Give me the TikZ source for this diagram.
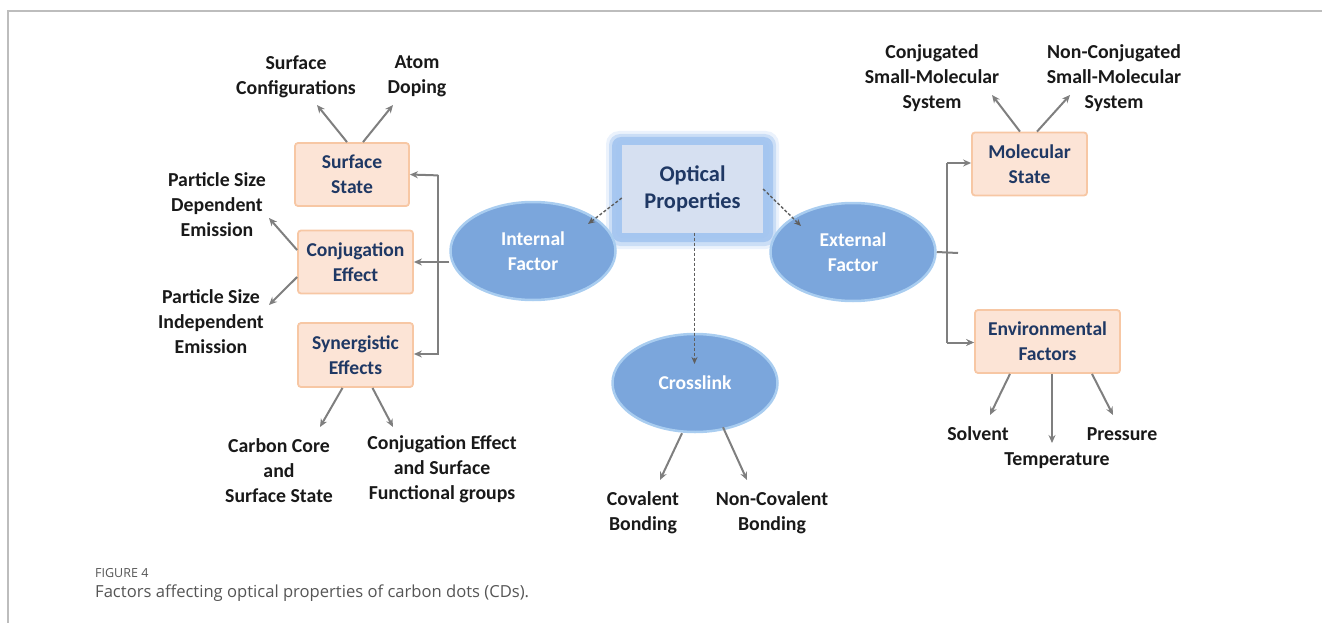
\documentclass[tikz,border=0pt]{standalone}
\usepackage{fontspec}
\setmainfont{Carlito}
\newfontfamily\capfont{Open Sans}
\usetikzlibrary{shapes.geometric,arrows.meta,calc}
\definecolor{ofill}{HTML}{FCE4D6}
\definecolor{odraw}{HTML}{F7C7A4}
\definecolor{navy}{HTML}{1F3864}
\definecolor{efill}{HTML}{7BA6DC}
\definecolor{edraw}{HTML}{A9CDF0}
\definecolor{opfill}{HTML}{D6E0F1}
\definecolor{glow}{HTML}{8FB8EC}
\definecolor{agray}{HTML}{7F7F7F}
\definecolor{dgray}{HTML}{5F5F5F}
\definecolor{bgray}{HTML}{BDBDBD}
\definecolor{capgray}{HTML}{555555}
\begin{document}
\begin{tikzpicture}[x=1pt,y=-1pt,
  lbl/.style={align=center,text=black!90,font=\bfseries\fontsize{19.8}{25}\selectfont,inner sep=0pt},
  obox/.style={draw=odraw,fill=ofill,line width=1.8pt,rounded corners=3pt,minimum width=115pt,minimum height=63pt,align=center,text=navy,font=\bfseries\fontsize{19.6}{25}\selectfont,inner sep=0pt},
  ell/.style={ellipse,fill=efill,draw=edraw,line width=2.5pt,minimum width=165pt,minimum height=98pt,align=center,text=white,font=\bfseries\fontsize{19.6}{25}\selectfont,inner sep=0pt},
  arr/.style={draw=agray,line width=2pt,-{Stealth[length=8pt,width=7pt]}},
  lin/.style={draw=agray,line width=2pt},
  darr/.style={draw=dgray,line width=1.4pt,dash pattern=on 3pt off 2pt,-{Stealth[length=7pt,width=6pt]}}
]
\useasboundingbox (0,0) rectangle (1322,623);
% frame
\draw[bgray,line width=1.5pt] (8,623) -- (8,11) -- (1322,11);

% Optical properties glow
\fill[glow,opacity=0.18,rounded corners=13pt] (606,131) rectangle (779,249);
\fill[glow,opacity=0.35,rounded corners=11pt] (609,134) rectangle (776,246);
\fill[glow,opacity=0.6,rounded corners=9pt] (612,137) rectangle (773,242);
\fill[glow!80!white,rounded corners=7pt] (616,140) rectangle (769,238);
\node[fill=opfill,minimum width=141pt,minimum height=87pt,inner sep=0pt,align=center,text=navy,font=\bfseries\fontsize{22.4}{27}\selectfont] (op) at (692.5,189) {Optical\\Properties};

% ellipses
\node[ell] (inf) at (533,251) {Internal\\Factor};
\node[ell] (exf) at (853,252) {External\\Factor};
\node[ell] (crl) at (695,383) {Crosslink};

% orange boxes
\node[obox,minimum width=114pt] (ss) at (352,174.5) {Surface\\State};
\node[obox] (ce) at (355.5,262) {Conjugation\\Effect};
\node[obox,minimum height=64pt] (sy) at (355.5,355) {Synergistic\\Effects};
\node[obox] (ms) at (1029.5,164) {Molecular\\State};
\node[obox,minimum width=145pt] (ev) at (1047.5,341.5) {Environmental\\Factors};

% labels
\node[lbl] (l1) at (296,76.5) {Surface\\Configurations};
\node[lbl] (l2) at (417,76.5) {Atom\\Doping};
\node[lbl] (l3) at (217,204.5) {Particle Size\\Dependent\\Emission};
\node[lbl] (l4) at (211,322) {Particle Size\\Independent\\Emission};
\node[lbl] (l5) at (279,471) {Carbon Core\\and\\Surface State};
\node[lbl] (l6) at (442,469.5) {Conjugation Effect\\and Surface\\Functional groups};
\node[lbl] (l7) at (643,513) {Covalent\\Bonding};
\node[lbl] (l8) at (772,513) {Non-Covalent\\Bonding};
\node[lbl] (l9) at (932,78.5) {Conjugated\\Small-Molecular\\System};
\node[lbl] (l10) at (1114,78.5) {Non-Conjugated\\Small-Molecular\\System};
\node[lbl] (l11) at (978,434) {Solvent};
\node[lbl] (l12) at (1057,461) {Temperature};
\node[lbl] (l13) at (1122,434) {Pressure};

% dashed arrows from optical properties
\coordinate (tin) at (588,224);
\coordinate (tex) at (801,226);
\coordinate (tcr) at (694.5,364);
\draw[darr] ([yshift=-9pt]op.west) -- (tin);
\draw[darr] (op.east) -- (tex);
\draw[darr] (op.south -| tcr) -- (tcr);

% left bracket
\coordinate (lb) at (438,262);
\draw[lin] (lb |- ss.east) -- (lb |- sy.east);
\draw[arr] ([yshift=-0.9pt]lb |- ss.east) -- (ss.east);
\draw[arr] ([yshift=1pt]lb |- sy.east) -- ([yshift=1pt]sy.east);
\draw[arr] (inf.west |- ce.east) -- (ce.east);

% right bracket
\coordinate (rb) at (947,253);
\coordinate (rt) at (958,253);
\draw[lin] (exf.east) -- (rt);
\draw[lin] ([yshift=1pt]rb |- ms.west) -- ([yshift=-1pt]rb |- ev.west);
\draw[arr] ([yshift=1pt]rb |- ms.west) -- ([yshift=1pt]ms.west);
\draw[arr] ([yshift=-1pt]rb |- ev.west) -- ([yshift=-1pt]ev.west);

% arrow tips toward labels
\coordinate (a1) at (317,105);
\coordinate (a2) at (393,105);
\coordinate (a3) at (269,218);
\coordinate (a4) at (269,305);
\coordinate (a5) at (320,427);
\coordinate (a6) at (393,427);
\coordinate (a7) at (660,480);
\coordinate (a8) at (747,480);
\coordinate (a9) at (992,95);
\coordinate (a10) at (1070,95);
\coordinate (a11) at (990,415);
\coordinate (a12) at (1052,443);
\coordinate (a13) at (1113,415);

\draw[arr] ([xshift=-5pt]ss.north) -- (a1);
\draw[arr] ([xshift=11pt]ss.north) -- (a2);
\draw[arr] ([yshift=12pt]ce.west) -- (a3);
\draw[arr] ([yshift=-15pt]ce.west) -- (a4);
\draw[arr] ([xshift=-13pt]sy.south) -- (a5);
\draw[arr] ([xshift=17pt]sy.south) -- (a6);
\draw[arr] ([xshift=-13pt]crl.south) -- (a7);
\draw[arr] ([xshift=28pt,yshift=6pt]crl.south) -- (a8);
\draw[arr] ([xshift=-9.5pt]ms.north) -- (a9);
\draw[arr] ([xshift=7.5pt]ms.north) -- (a10);
\draw[arr] ([xshift=-37.5pt]ev.south) -- (a11);
\draw[arr] ([xshift=4.5pt]ev.south) -- (a12);
\draw[arr] ([xshift=44.5pt]ev.south) -- (a13);

% caption
\node[anchor=west,inner sep=0pt,text=capgray,font=\capfont\fontsize{12.5}{14}\selectfont] (fig) at (95,573) {FIGURE 4};
\node[anchor=west,inner sep=0pt,text=capgray,font=\capfont\fontsize{16.6}{18}\selectfont] (cap) at (95,593) {Factors affecting optical properties of carbon dots (CDs).};
\end{tikzpicture}
\end{document}
